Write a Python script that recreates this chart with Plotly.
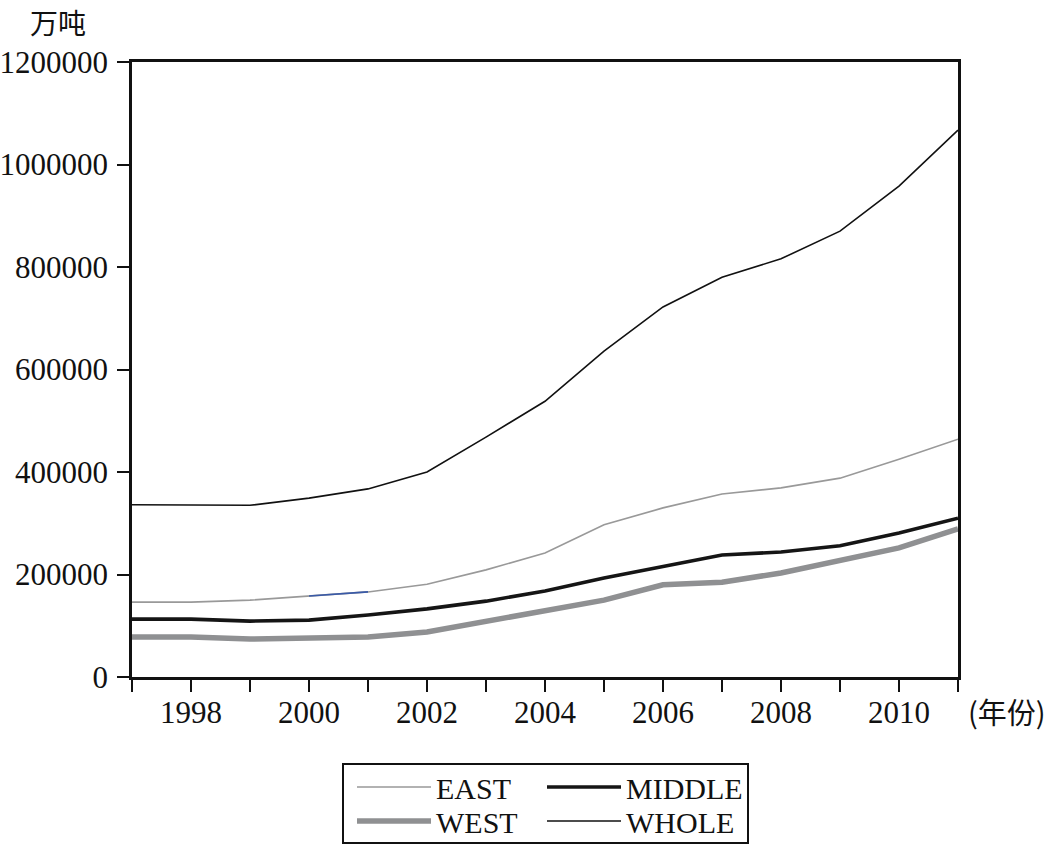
import plotly.graph_objects as go

years = list(range(1997, 2012))
east = [146000, 146000, 150000, 158000, 166000, 181000, 209000, 242000, 297000, 330000, 357000, 369000, 388000, 425000, 464000]
middle = [113000, 113000, 109000, 111000, 121000, 133000, 148000, 168000, 193000, 215000, 238000, 244000, 256000, 281000, 310000]
west = [78000, 78000, 74000, 76000, 78000, 88000, 109000, 131000, 150000, 180000, 185000, 203000, 228000, 252000, 289000]
whole = [336000, 336000, 335000, 349000, 367000, 400000, 468000, 538000, 636000, 722000, 780000, 816000, 870000, 958000, 1067000]

y_ticks = [0, 200000, 400000, 600000, 800000, 1000000, 1200000]

SERIF = "Liberation Serif, Times New Roman, serif"
CJK = "Noto Sans CJK SC"

L, R, T, B = 132, 958, 62, 677
W, H = R - L, B - T


def px_x(px):
    return (px - L) / W


def px_y(py):
    return (B - py) / H


fig = go.Figure()
fig.add_trace(go.Scatter(x=years, y=whole, name="WHOLE", mode="lines",
                         line=dict(color="#111111", width=1.6), legend="legend4"))
fig.add_trace(go.Scatter(x=years, y=east, name="EAST", mode="lines",
                         line=dict(color="#999999", width=1.6), legend="legend"))
fig.add_trace(go.Scatter(x=years[3:5], y=east[3:5], mode="lines", showlegend=False,
                         line=dict(color="#3a5aa8", width=1.6), hoverinfo="skip"))
fig.add_trace(go.Scatter(x=years, y=west, name="WEST", mode="lines",
                         line=dict(color="#8f9092", width=5.5), legend="legend3"))
fig.add_trace(go.Scatter(x=years, y=middle, name="MIDDLE", mode="lines",
                         line=dict(color="#151515", width=3.6), legend="legend2"))


def leg(xp, yp):
    return dict(
        x=px_x(xp), y=px_y(yp), xanchor="left", yanchor="middle",
        font=dict(family=SERIF, size=30, color="#111111"),
        bgcolor="rgba(0,0,0,0)", borderwidth=0, itemwidth=74,
    )


fig.update_layout(
    width=1054, height=846,
    margin=dict(l=L, r=1054 - R, t=T, b=846 - B, autoexpand=False),
    plot_bgcolor="white", paper_bgcolor="white",
    font=dict(family=SERIF, size=31, color="#111111"),
    xaxis=dict(range=[1997, 2011], tick0=1998, dtick=2, ticks="outside", ticklen=12,
               tickwidth=2, tickcolor="#111111", showline=True, linewidth=2.5,
               linecolor="#111111", mirror=True, showgrid=False, zeroline=False,
               automargin=False, ticklabelstandoff=-6,
               minor=dict(dtick=1, tick0=1997, ticks="outside", ticklen=12, tickwidth=2,
                          tickcolor="#111111", showgrid=False),
               tickfont=dict(family=SERIF, size=31, color="#111111")),
    yaxis=dict(range=[0, 1200000], tickvals=y_ticks, ticktext=[str(v) for v in y_ticks],
               ticks="outside", ticklen=12, tickwidth=2, tickcolor="#111111",
               showline=True, linewidth=2.5, linecolor="#111111", mirror=True,
               showgrid=False, zeroline=False, automargin=False, ticklabelstandoff=3,
               tickfont=dict(family=SERIF, size=31, color="#111111")),
    showlegend=True,
    legend=leg(352, 787),
    legend2=leg(542, 787),
    legend3=leg(352, 821),
    legend4=leg(542, 821),
    shapes=[dict(type="rect", xref="paper", yref="paper",
                 x0=px_x(343), x1=px_x(748), y0=px_y(843), y1=px_y(764),
                 line=dict(color="#111111", width=2), fillcolor="rgba(0,0,0,0)")],
    annotations=[
        dict(text="万吨", xref="paper", yref="paper", x=px_x(58), y=px_y(22),
             showarrow=False, font=dict(family=CJK, size=28, color="#111111"),
             xanchor="center", yanchor="middle"),
        dict(text="(年份)", xref="paper", yref="paper", x=px_x(966), y=px_y(711),
             showarrow=False, font=dict(family=CJK, size=29, color="#111111"),
             xanchor="left", yanchor="middle"),
    ],
)

fig.write_html("out.html", config={"displayModeBar": False},
               post_script="document.body.style.margin='0';")
